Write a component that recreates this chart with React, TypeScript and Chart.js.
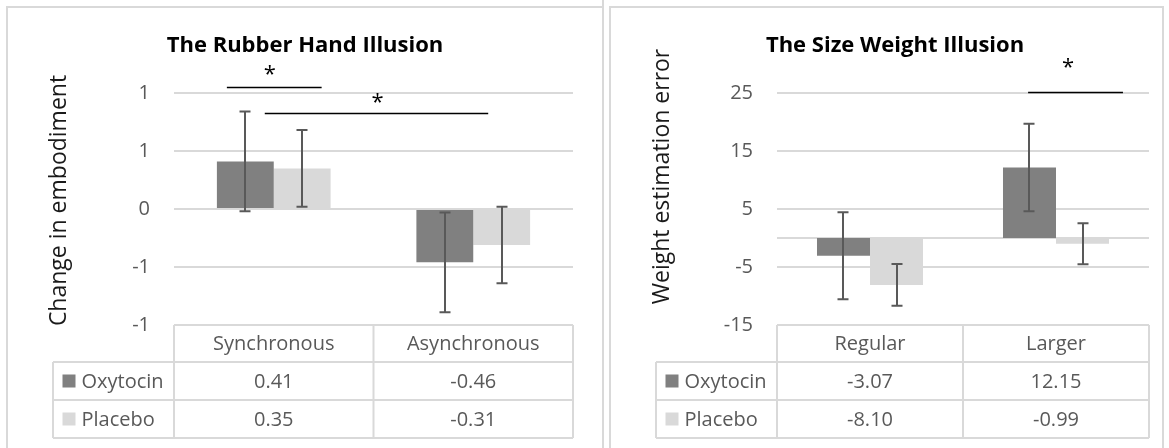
import React, { useEffect, useRef } from "react";
import { Chart, registerables } from "chart.js";

Chart.register(...registerables);

const FONT = "'Open Sans', 'Noto Sans', sans-serif";

const seriesNames = ["Oxytocin", "Placebo"];
const seriesColors = ["#808080", "#d9d9d9"];

// Panel 1: The Rubber Hand Illusion
const rhiCategories = ["Synchronous", "Asynchronous"];
const rhiOxytocin = [0.41, -0.46];
const rhiPlacebo = [0.35, -0.31];
const rhiOxytocinErr = [0.43, 0.43];
const rhiPlaceboErr = [0.33, 0.33];
const rhiTickMin = -1;
const rhiTickMax = 1;
const rhiTickStep = 0.5;
// significance brackets: category-index span, value level, star position
const rhiSigFrom = [-0.235, -0.045];
const rhiSigTo = [0.24, 1.075];
const rhiSigLevel = [1.047, 0.823];
const rhiStarX = [-0.02, 0.52];
const rhiStarLevel = [1.19, 0.95];

// Panel 2: The Size Weight Illusion
const swiCategories = ["Regular", "Larger"];
const swiOxytocin = [-3.07, 12.15];
const swiPlacebo = [-8.1, -0.99];
const swiOxytocinErr = [7.5, 7.55];
const swiPlaceboErr = [3.6, 3.55];
const swiTickMin = -15;
const swiTickMax = 25;
const swiTickStep = 10;
const swiSigFrom = [0.85];
const swiSigTo = [1.36];
const swiSigLevel = [25.1];
const swiStarX = [1.065];
const swiStarLevel = [30.1];

type PanelProps = {
  left: number;
  width: number;
  plotLeft: number;
  plotRight: number;
  title: string;
  titleX: number;
  yTitle: string;
  yTitleX: number;
  yTitleY: number;
  legendLeft: number;
  categories: string[];
  oxy: number[];
  pla: number[];
  oxyErr: number[];
  plaErr: number[];
  tickMin: number;
  tickMax: number;
  tickStep: number;
  roundTicks: boolean;
  zeroLine: boolean;
  sigFrom: number[];
  sigTo: number[];
  sigLevel: number[];
  starX: number[];
  starLevel: number[];
  borders: (ctx: CanvasRenderingContext2D) => void;
};

const HEIGHT = 448;
const PLOT_TOP = 93;
const PLOT_BOTTOM = 325;
const ROW1 = 362;
const ROW2 = 400;
const TABLE_BOTTOM = 438;
const GRID = "#d9d9d9";
const TEXT_GRAY = "#595959";

function Panel(p: PanelProps) {
  const ref = useRef<HTMLCanvasElement | null>(null);
  useEffect(() => {
    const canvas = ref.current;
    if (!canvas) return;
    const errs = [p.oxyErr, p.plaErr];
    const plugin = {
      id: "extras",
      beforeDatasetsDraw(chart: any) {
        if (!p.zeroLine) return;
        const ctx = chart.ctx;
        const y = chart.scales.y.getPixelForValue(0);
        ctx.save();
        ctx.strokeStyle = GRID;
        ctx.lineWidth = 2;
        ctx.beginPath();
        ctx.moveTo(chart.chartArea.left, y);
        ctx.lineTo(chart.chartArea.right, y);
        ctx.stroke();
        ctx.restore();
      },
      afterDraw(chart: any) {
        const ctx: CanvasRenderingContext2D = chart.ctx;
        const xs = chart.scales.x;
        const ys = chart.scales.y;
        const L = chart.chartArea.left;
        const R = chart.chartArea.right;
        ctx.save();
        p.borders(ctx);

        // error bars
        ctx.strokeStyle = "#595959";
        ctx.lineWidth = 2;
        for (let d = 0; d < 2; d++) {
          const meta = chart.getDatasetMeta(d);
          const vals = chart.data.datasets[d].data as number[];
          meta.data.forEach((bar: any, j: number) => {
            const x = Math.round(bar.x);
            const y1 = ys.getPixelForValue(vals[j] + errs[d][j]);
            const y2 = ys.getPixelForValue(vals[j] - errs[d][j]);
            ctx.beginPath();
            ctx.moveTo(x, y1);
            ctx.lineTo(x, y2);
            ctx.moveTo(x - 5.5, y1);
            ctx.lineTo(x + 5.5, y1);
            ctx.moveTo(x - 5.5, y2);
            ctx.lineTo(x + 5.5, y2);
            ctx.stroke();
          });
        }

        // significance brackets
        ctx.strokeStyle = "#000";
        ctx.fillStyle = "#000";
        ctx.lineWidth = 1.5;
        ctx.font = `22px ${FONT}`;
        ctx.textAlign = "center";
        ctx.textBaseline = "middle";
        for (let i = 0; i < p.sigFrom.length; i++) {
          const y = ys.getPixelForValue(p.sigLevel[i]);
          ctx.beginPath();
          ctx.moveTo(xs.getPixelForValue(p.sigFrom[i]), y);
          ctx.lineTo(xs.getPixelForValue(p.sigTo[i]), y);
          ctx.stroke();
          ctx.fillText("*", xs.getPixelForValue(p.starX[i]), ys.getPixelForValue(p.starLevel[i]) + 4);
        }

        // title
        ctx.font = `bold 22px ${FONT}`;
        ctx.textAlign = "center";
        ctx.textBaseline = "alphabetic";
        ctx.fillStyle = "#000";
        ctx.fillText(p.title, p.titleX, 52);

        // y axis title
        ctx.save();
        ctx.translate(p.yTitleX, p.yTitleY);
        ctx.rotate(-Math.PI / 2);
        ctx.font = `23px ${FONT}`;
        ctx.fillStyle = "#1a1a1a";
        ctx.fillText(p.yTitle, 0, 0);
        ctx.restore();

        // data table
        const mid = xs.getPixelForValue(0.5);
        ctx.strokeStyle = GRID;
        ctx.lineWidth = 2;
        ctx.beginPath();
        ctx.moveTo(L, PLOT_BOTTOM);
        ctx.lineTo(R, PLOT_BOTTOM);
        for (const yy of [ROW1, ROW2, TABLE_BOTTOM]) {
          ctx.moveTo(p.legendLeft, yy);
          ctx.lineTo(R, yy);
        }
        for (const xx of [L, mid, R]) {
          ctx.moveTo(xx, PLOT_BOTTOM);
          ctx.lineTo(xx, TABLE_BOTTOM);
        }
        ctx.moveTo(p.legendLeft, ROW1);
        ctx.lineTo(p.legendLeft, TABLE_BOTTOM);
        ctx.stroke();

        ctx.font = `20px ${FONT}`;
        ctx.fillStyle = TEXT_GRAY;
        ctx.textAlign = "center";
        ctx.textBaseline = "middle";
        const headY = (PLOT_BOTTOM + ROW1) / 2 + 1;
        const rowY = [(ROW1 + ROW2) / 2 + 1, (ROW2 + TABLE_BOTTOM) / 2 + 1];
        const series = [p.oxy, p.pla];
        p.categories.forEach((c, j) => {
          const cx = xs.getPixelForValue(j);
          ctx.fillText(c, cx, headY);
          series.forEach((s, d) => ctx.fillText(s[j].toFixed(2), cx, rowY[d]));
        });
        ctx.textAlign = "left";
        seriesNames.forEach((n, d) => {
          ctx.fillStyle = seriesColors[d];
          ctx.fillRect(p.legendLeft + 9.5, rowY[d] - 7.5, 13, 13);
          ctx.fillStyle = TEXT_GRAY;
          ctx.fillText(n, p.legendLeft + 28.5, rowY[d]);
        });
        ctx.restore();
      },
    };

    const chart = new Chart(canvas, {
      type: "bar",
      data: {
        labels: p.categories,
        datasets: [
          { label: seriesNames[0], data: p.oxy, backgroundColor: seriesColors[0], barPercentage: 1, categoryPercentage: 0.57 },
          { label: seriesNames[1], data: p.pla, backgroundColor: seriesColors[1], barPercentage: 1, categoryPercentage: 0.57 },
        ],
      },
      options: {
        responsive: false,
        animation: false,
        layout: { padding: { left: 0, right: p.width - p.plotRight, top: PLOT_TOP, bottom: HEIGHT - PLOT_BOTTOM } },
        plugins: { legend: { display: false }, tooltip: { enabled: false }, title: { display: false } },
        scales: {
          x: { display: false },
          y: {
            min: p.tickMin,
            max: p.tickMax,
            afterFit: (s: any) => {
              s.width = p.plotLeft;
            },
            border: { display: false },
            grid: { color: GRID, lineWidth: 2, drawTicks: false },
            ticks: {
              stepSize: p.tickStep,
              padding: 24,
              color: TEXT_GRAY,
              font: { family: FONT, size: 20 },
              callback: (v: any) => {
                const n = Number(v);
                return p.roundTicks ? String(Math.sign(n) * Math.round(Math.abs(n))) : String(n);
              },
            },
          },
        },
      },
      plugins: [plugin],
    });
    return () => chart.destroy();
  }, []);
  return (
    <canvas
      ref={ref}
      width={p.width}
      height={HEIGHT}
      style={{ position: "absolute", left: p.left, top: 0, width: p.width, height: HEIGHT }}
    />
  );
}

export default function App() {
  return (
    <div style={{ position: "absolute", left: 0, top: 0, width: 1169, height: 448, background: "#fff", overflow: "hidden" }}>
      <Panel
        left={0}
        width={590}
        plotLeft={174}
        plotRight={573}
        title="The Rubber Hand Illusion"
        titleX={305}
        yTitle="Change in embodiment"
        yTitleX={66}
        yTitleY={200.5}
        legendLeft={53}
        categories={rhiCategories}
        oxy={rhiOxytocin}
        pla={rhiPlacebo}
        oxyErr={rhiOxytocinErr}
        plaErr={rhiPlaceboErr}
        tickMin={rhiTickMin}
        tickMax={rhiTickMax}
        tickStep={rhiTickStep}
        roundTicks={true}
        zeroLine={false}
        sigFrom={rhiSigFrom}
        sigTo={rhiSigTo}
        sigLevel={rhiSigLevel}
        starX={rhiStarX}
        starLevel={rhiStarLevel}
        borders={(ctx) => {
          ctx.strokeStyle = GRID;
          ctx.lineWidth = 2;
          ctx.beginPath();
          ctx.moveTo(7, 448);
          ctx.lineTo(7, 7);
          ctx.lineTo(590, 7);
          ctx.stroke();
        }}
      />
      <Panel
        left={590}
        width={579}
        plotLeft={187}
        plotRight={559}
        title="The Size Weight Illusion"
        titleX={305}
        yTitle="Weight estimation error"
        yTitleX={79}
        yTitleY={176.5}
        legendLeft={66}
        categories={swiCategories}
        oxy={swiOxytocin}
        pla={swiPlacebo}
        oxyErr={swiOxytocinErr}
        plaErr={swiPlaceboErr}
        tickMin={swiTickMin}
        tickMax={swiTickMax}
        tickStep={swiTickStep}
        roundTicks={false}
        zeroLine={true}
        sigFrom={swiSigFrom}
        sigTo={swiSigTo}
        sigLevel={swiSigLevel}
        starX={swiStarX}
        starLevel={swiStarLevel}
        borders={(ctx) => {
          ctx.strokeStyle = GRID;
          ctx.lineWidth = 2;
          ctx.beginPath();
          ctx.moveTo(0, 7);
          ctx.lineTo(13, 7);
          ctx.moveTo(13, 0);
          ctx.lineTo(13, 448);
          ctx.moveTo(20, 448);
          ctx.lineTo(20, 7);
          ctx.lineTo(573, 7);
          ctx.lineTo(573, 448);
          ctx.stroke();
        }}
      />
    </div>
  );
}
